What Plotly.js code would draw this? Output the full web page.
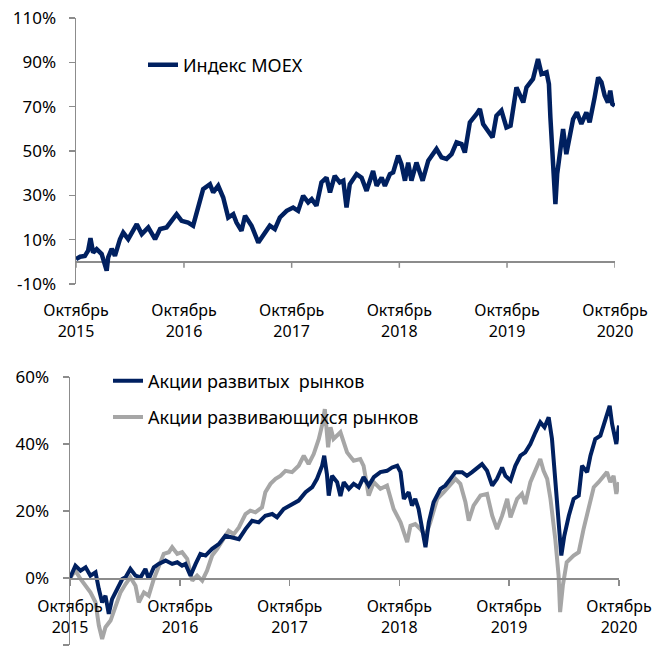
<!DOCTYPE html>
<html><head><meta charset="utf-8">
<script src="https://cdn.plot.ly/plotly-3.0.1.min.js"></script>
<style>body{margin:0;background:#fff}#chart{width:652px;height:654px}</style>
</head><body><div id="chart"></div>
<script>
const tickDates = ['2015-10-01','2016-10-01','2017-10-01','2018-10-01','2019-10-01','2020-10-01'];
const tickLabels = ['Октябрь<br>2015','Октябрь<br>2016','Октябрь<br>2017','Октябрь<br>2018','Октябрь<br>2019','Октябрь<br>2020'];
const topYTicks = [-10, 10, 30, 50, 70, 90, 110];
const topYLabels = ['-10%', '10%', '30%', '50%', '70%', '90%', '110%'];
const botYTicks = [-20, 0, 20, 40, 60];
const botYLabels = ['-20%', '0%', '20%', '40%', '60%'];
const seriesNames = ['Индекс MOEX','Акции развитых\u00a0 рынков','Акции развивающихся рынков'];

const moexDates = ['2015-10-01','2015-10-15','2015-10-31','2015-11-11','2015-11-19','2015-11-28','2015-12-10','2015-12-27',
'2016-01-13','2016-01-18','2016-01-30','2016-02-10','2016-02-27','2016-03-09','2016-03-26','2016-04-12','2016-04-24','2016-05-11',
'2016-06-02','2016-06-25','2016-07-12','2016-08-03','2016-08-14','2016-09-06','2016-09-23','2016-10-15','2016-11-01','2016-11-18',
'2016-12-05','2016-12-28','2017-01-08','2017-01-25','2017-02-11','2017-02-28','2017-03-17','2017-03-28','2017-04-14','2017-04-26',
'2017-05-18','2017-06-10','2017-06-27','2017-07-19','2017-08-05','2017-08-22','2017-09-14','2017-10-06','2017-10-23','2017-11-09',
'2017-11-26','2017-12-08','2017-12-24','2018-01-10','2018-01-27','2018-02-08','2018-02-24','2018-03-13','2018-03-25','2018-04-05',
'2018-04-16','2018-05-09','2018-05-26','2018-06-12','2018-07-04','2018-07-16','2018-08-02','2018-08-13','2018-08-30','2018-09-10',
'2018-09-27','2018-10-08','2018-10-20','2018-10-31','2018-11-11','2018-11-28','2018-12-19','2019-01-07','2019-02-04','2019-02-21',
'2019-03-10','2019-03-27','2019-04-13','2019-04-30','2019-05-11','2019-05-28','2019-06-20','2019-07-01','2019-07-12','2019-07-29',
'2019-08-13','2019-08-26','2019-09-12','2019-09-29','2019-10-13','2019-11-02','2019-11-13','2019-11-25','2019-12-06','2019-12-28',
'2020-01-14','2020-01-26','2020-02-12','2020-02-20','2020-02-25','2020-03-05','2020-03-13','2020-03-19','2020-03-28','2020-04-08',
'2020-04-19','2020-05-01','2020-05-12','2020-05-25','2020-06-09','2020-06-26','2020-07-07','2020-07-24','2020-08-05','2020-08-16',
'2020-08-27','2020-09-07','2020-09-15','2020-09-22','2020-09-30'];
const moexValues = [1.2,2.3,2.7,5,10.7,4.2,5.7,3.5,
-4,2,5.9,2.7,10.2,13.2,10.2,14.8,17,12.5,
15.5,10.2,14.8,15.5,17.7,21.5,18.5,17.7,16.3,25.3,
32.8,35,31.3,34.3,29,20,21.5,17.7,14,20.8,
16.3,8.7,11.7,16.3,14.8,20,23,24.5,23,29.8,
26.8,28.3,25.3,35.8,38,31.3,38.8,35.8,36.6,24.5,
35,39.6,38,32,41,34.3,38,34.3,39.6,40.3,
47.9,44.1,36.6,44.8,36.6,44.8,36.6,45.6,50.9,47.1,
46.4,48.6,53.9,53.1,49.3,62.9,66.7,68.9,62.2,59.1,
56.1,65.9,68.2,60.6,61.4,78.7,75.7,71.9,78.7,82.5,
91.5,84.7,85.5,80.2,65.2,47.1,26,39.6,50.1,59.9,
48.6,57.6,64.4,67.4,62.2,67.4,62.9,74.2,83.2,81,
75,71.9,77.2,71.2,70.4];

const devDates = ['2015-10-01','2015-10-19','2015-11-05','2015-11-22','2015-12-08','2015-12-25','2016-01-05','2016-01-16','2016-01-27',
'2016-02-07','2016-02-18','2016-03-06','2016-03-23','2016-04-03','2016-04-19','2016-05-06','2016-05-23','2016-06-08','2016-06-19',
'2016-07-06','2016-07-22','2016-08-14','2016-09-05','2016-09-22','2016-10-08','2016-10-19','2016-11-05','2016-11-22','2016-12-08',
'2016-12-25','2017-01-16','2017-02-07','2017-03-01','2017-03-24','2017-04-15','2017-05-07','2017-05-29','2017-06-20','2017-07-12',
'2017-08-04','2017-08-20','2017-09-11','2017-10-09','2017-10-31','2017-11-23','2017-12-15','2017-12-31','2018-01-17','2018-01-24',
'2018-02-02','2018-02-08','2018-02-19','2018-03-08','2018-03-19','2018-03-30','2018-04-16','2018-05-02','2018-05-19','2018-06-04',
'2018-06-21','2018-07-08','2018-07-30','2018-08-21','2018-09-07','2018-09-24','2018-10-05','2018-10-16','2018-11-01','2018-11-12',
'2018-11-23','2018-12-04','2018-12-16','2018-12-27','2019-01-07','2019-01-23','2019-02-15','2019-03-03','2019-03-20','2019-04-06',
'2019-04-28','2019-05-14','2019-05-31','2019-06-17','2019-07-03','2019-07-20','2019-08-06','2019-08-22','2019-09-08','2019-09-19',
'2019-10-06','2019-10-22','2019-11-08','2019-11-24','2019-12-11','2019-12-28','2020-01-13','2020-01-27','2020-02-10','2020-02-21',
'2020-03-03','2020-03-14','2020-03-23','2020-04-02','2020-04-17','2020-05-03','2020-05-20','2020-05-31','2020-06-17','2020-06-28',
'2020-07-14','2020-07-31','2020-08-17','2020-08-31','2020-09-08','2020-09-22','2020-10-01'];
const devValues = [0,3.7,2.2,3.2,0.7,1.7,-3.3,-7.3,-5.3,
-10.7,-6.3,-3.3,-0.3,0.2,2.7,0.7,0.2,2.7,-0.3,
3.2,4.2,5.2,4.2,4.7,3.7,4.2,0.7,4.2,7.2,
6.7,8.7,10.1,12.6,12.1,11.6,14.6,17.1,16.6,18.6,
19.1,18.1,20.6,22.1,23.1,25.6,27.1,29.6,33.5,36.5,
31,24.6,30.5,28.6,24.5,28.6,26.6,28.1,27.1,30.1,
27.6,30.1,31.6,32,33,33.5,31.6,23.6,25.6,21.6,
23.6,20.6,14.6,9.2,16.6,22.6,26.6,27.6,29.6,31.6,
31.6,30.5,31.6,33,34,32,27.6,29.6,33,30.5,
29.1,33.5,36.5,37.5,40,43.5,46.5,45,48,41.5,
28.6,16.6,6.7,12.6,18.6,23.6,24.6,33.5,31.6,36.5,
41.5,42.5,47,51.4,46,40,45.5];

const emDates = ['2015-10-01','2015-10-19','2015-11-05','2015-11-22','2015-12-08','2015-12-25','2016-01-05','2016-01-16','2016-01-27',
'2016-02-13','2016-02-29','2016-03-17','2016-04-03','2016-04-19','2016-05-06','2016-05-17','2016-06-03','2016-06-19','2016-07-06',
'2016-07-22','2016-08-08','2016-08-25','2016-09-05','2016-09-22','2016-10-08','2016-10-25','2016-11-11','2016-11-27','2016-12-14',
'2016-12-30','2017-01-16','2017-02-02','2017-02-24','2017-03-12','2017-03-29','2017-04-15','2017-05-07','2017-05-23','2017-06-09',
'2017-07-01','2017-07-12','2017-07-29','2017-08-15','2017-08-31','2017-09-17','2017-10-09','2017-10-31','2017-11-17','2017-12-03',
'2017-12-20','2018-01-06','2018-01-18','2018-01-26','2018-02-06','2018-02-14','2018-02-24','2018-03-19','2018-04-10','2018-05-02',
'2018-05-24','2018-06-04','2018-06-21','2018-07-08','2018-07-30','2018-08-21','2018-09-12','2018-10-05','2018-10-27','2018-11-07',
'2018-11-23','2018-12-10','2018-12-27','2019-01-12','2019-02-04','2019-02-26','2019-03-20','2019-04-06','2019-04-22','2019-05-09',
'2019-05-20','2019-06-05','2019-06-28','2019-07-20','2019-08-06','2019-08-22','2019-09-08','2019-09-25','2019-10-06','2019-10-17',
'2019-10-28','2019-11-13','2019-11-24','2019-12-11','2019-12-28','2020-01-13','2020-01-24','2020-02-05','2020-02-16','2020-03-03',
'2020-03-14','2020-03-19','2020-03-28','2020-04-10','2020-05-03','2020-05-20','2020-06-05','2020-06-22','2020-07-09','2020-07-25',
'2020-08-11','2020-08-22','2020-09-02','2020-09-13','2020-09-22','2020-10-01'];
const emValues = [0,2.2,-0.3,-2.3,-4.3,-7.3,-14.2,-18.2,-14.7,
-12.7,-8.3,-4.3,-1.8,0.2,-2.3,-7.3,-4.3,-5.3,-0.3,
3.2,7.2,7.7,9.2,7.2,7.7,5.7,-0.8,0.7,-0.8,
2.2,6.7,8.7,11.6,14.1,13.1,15.1,19.1,20.1,19.6,
21.1,25.6,28.1,29.6,30.5,32,31.6,33.5,36.5,34,
37,41.5,46,50.4,39,45,41.5,43.5,37.5,35,
35.5,33.5,24.6,28.6,26.6,27.6,20.6,16.6,10.7,15.6,
16.1,14.6,12.6,16.6,23.6,25.6,28.1,29.6,28.1,22.6,
17.1,21.6,24.6,25.1,18.6,14.6,18.6,23.6,18.1,20.6,
23.6,25.1,22.1,28.6,32.5,35.5,32,29.6,23.6,11.6,
0.7,-10.2,-2.3,4.7,6.7,7.7,14.6,20.6,27.1,28.6,
30.5,31.6,28.6,30.5,25.1,28.6];

const navy = '#002060';
const grey = '#A6A6A6';
const axisGrey = '#8C8C8C';
const fontFam = '"Noto Sans", "Open Sans", sans-serif';

const moexTrace = {x: moexDates, y: moexValues, name: seriesNames[0], type: 'scatter', mode: 'lines',
   line: {color: navy, width: 4.5}, xaxis: 'x', yaxis: 'y', legend: 'legend'};
const devTrace = {x: devDates, y: devValues, name: seriesNames[1], type: 'scatter', mode: 'lines',
   line: {color: navy, width: 4}, xaxis: 'x2', yaxis: 'y2', legend: 'legend2', legendgroup: 'dev', legendrank: 1};
const emTrace = {x: emDates, y: emValues, name: seriesNames[2], type: 'scatter', mode: 'lines',
   line: {color: grey, width: 4}, xaxis: 'x2', yaxis: 'y2', legend: 'legend2', legendgroup: 'em', legendrank: 2};
// navy drawn over grey in the lower panel
const data = [moexTrace, emTrace, devTrace];

const shapes = tickDates.map(d => ({
  type: 'line', xref: 'x', yref: 'y', x0: d, x1: d, ysizemode: 'pixel', yanchor: 0, y0: 0, y1: -6,
  line: {color: axisGrey, width: 1.5}
}));

const layout = {
  width: 652, height: 654,
  margin: {l: 0, r: 0, t: 0, b: 0},
  paper_bgcolor: '#fff', plot_bgcolor: 'rgba(0,0,0,0)',
  font: {family: fontFam, color: '#000', size: 16},
  showlegend: true,
  xaxis: {
    domain: [76/652, 615/652], anchor: 'y', type: 'date',
    range: ['2015-10-01', '2020-10-01'],
    tickmode: 'array', tickvals: tickDates, ticktext: tickLabels,
    showgrid: false, zeroline: false, showline: false, ticks: '',
    tickfont: {size: 16}, ticklabelstandoff: 15, automargin: false
  },
  yaxis: {
    domain: [1 - 284/654, 1 - 18/654], anchor: 'x',
    range: [-10, 110], tickmode: 'array', tickvals: topYTicks, ticktext: topYLabels,
    showgrid: false, zeroline: true, zerolinecolor: axisGrey, zerolinewidth: 1.5,
    showline: true, linecolor: axisGrey, linewidth: 1.5,
    ticks: 'outside', ticklen: 6, tickcolor: axisGrey, tickwidth: 1.5,
    tickfont: {size: 17}, ticklabelstandoff: 9, automargin: false
  },
  xaxis2: {
    domain: [70/652, 619/652], anchor: 'free', position: (1 - 645/654) + 0.25 * ((1 - 377/654) - (1 - 645/654)),
    type: 'date', range: ['2015-10-01', '2020-10-01'],
    tickmode: 'array', tickvals: tickDates, ticktext: tickLabels,
    showgrid: false, zeroline: false, showline: true, linecolor: axisGrey, linewidth: 1.5,
    ticks: 'outside', ticklen: 6, tickcolor: axisGrey, tickwidth: 1.5,
    tickfont: {size: 16}, ticklabelstandoff: 7, automargin: false
  },
  yaxis2: {
    domain: [1 - 645/654, 1 - 377/654], anchor: 'x2',
    range: [-20, 60], tickmode: 'array', tickvals: botYTicks, ticktext: botYLabels,
    showgrid: false, zeroline: false,
    showline: true, linecolor: axisGrey, linewidth: 1.5,
    ticks: 'outside', ticklen: 6, tickcolor: axisGrey, tickwidth: 1.5,
    tickfont: {size: 17}, ticklabelstandoff: 10, automargin: false
  },
  legend: {
    x: 143/652, y: 1 - 65/654, xanchor: 'left', yanchor: 'middle',
    bgcolor: 'rgba(0,0,0,0)', font: {size: 18}, borderwidth: 0
  },
  legend2: {
    x: 108/652, y: 1 - 399/654, xanchor: 'left', yanchor: 'middle',
    bgcolor: 'rgba(0,0,0,0)', font: {size: 18}, borderwidth: 0,
    traceorder: 'grouped', tracegroupgap: 10
  },
  shapes: shapes
};

Plotly.newPlot('chart', data, layout, {staticPlot: true, displayModeBar: false});
</script>
</body></html>
